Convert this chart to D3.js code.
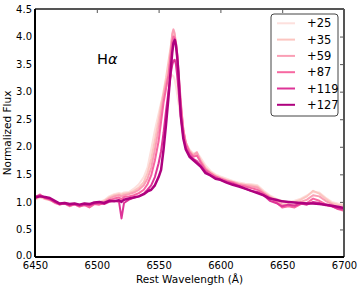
<!DOCTYPE html>
<html>
<head>
<meta charset="utf-8">
<script src="https://cdn.jsdelivr.net/npm/d3@7.9.0/dist/d3.min.js"></script>
<style>
  body { margin: 0; background: #fff; }
  svg { display: block; font-family: "DejaVu Sans", sans-serif; }
</style>
</head>
<body>
<svg id="chart" width="361" height="289"></svg>
<script>
// Rest wavelength grid (Å), shared by every epoch
const wavelength = [
  6450, 6454, 6458, 6462, 6466, 6470, 6474, 6478, 6482, 6486,
  6490, 6494, 6498, 6502, 6506, 6510, 6514, 6518, 6520, 6522,
  6526, 6530, 6534, 6538, 6541, 6544, 6547, 6550, 6552, 6554,
  6556, 6558, 6560, 6561, 6562, 6563, 6564, 6565, 6566, 6568,
  6570, 6572, 6575, 6578, 6581, 6584, 6588, 6592, 6596, 6600,
  6605, 6610, 6615, 6620, 6625, 6630, 6635, 6640, 6645, 6650,
  6655, 6660, 6665, 6670, 6675, 6680, 6685, 6690, 6695, 6700
];

const epochs = ['+25', '+35', '+59', '+87', '+119', '+127'];
const colors = ['#fde0dd', '#fcc5c0', '#fa9fb5', '#f768a1', '#dd3497', '#ae017e'];

const flux25 = [
  1.05, 1.08, 1.06, 1.04, 1.00, 0.97, 0.99, 0.96, 0.97, 0.95,
  0.97, 0.95, 0.99, 1.00, 1.03, 1.10, 1.14, 1.16, 1.15, 1.17,
  1.18, 1.24, 1.32, 1.45, 1.62, 1.95, 2.30, 2.60, 2.80, 2.95,
  3.08, 3.20, 3.28, 3.30, 3.28, 3.22, 3.10, 2.95, 2.80, 2.50,
  2.25, 2.05, 1.95, 1.88, 1.90, 1.80, 1.66, 1.56, 1.50, 1.46,
  1.42, 1.38, 1.35, 1.33, 1.32, 1.30, 1.20, 1.12, 1.06, 1.02,
  1.00, 1.02, 1.06, 1.12, 1.18, 1.17, 1.08, 1.00, 0.97, 0.95
];
const flux35 = [
  1.04, 1.09, 1.05, 1.03, 0.99, 0.96, 0.98, 0.95, 0.96, 0.94,
  0.96, 0.93, 0.98, 0.99, 1.02, 1.08, 1.12, 1.14, 1.13, 1.15,
  1.16, 1.20, 1.26, 1.36, 1.52, 1.78, 2.12, 2.48, 2.75, 3.00,
  3.25, 3.55, 3.85, 4.00, 4.08, 4.02, 3.85, 3.55, 3.25, 2.70,
  2.30, 2.08, 1.93, 1.86, 1.88, 1.76, 1.62, 1.54, 1.48, 1.44,
  1.40, 1.36, 1.33, 1.31, 1.30, 1.28, 1.18, 1.10, 1.04, 0.99,
  0.98, 1.00, 1.04, 1.10, 1.20, 1.15, 1.06, 0.98, 0.95, 0.93
];
const flux59 = [
  1.07, 1.14, 1.06, 1.05, 0.98, 0.95, 0.97, 0.92, 0.96, 0.91,
  0.95, 0.91, 0.97, 0.96, 1.00, 1.06, 1.10, 1.12, 1.10, 1.12,
  1.14, 1.17, 1.22, 1.30, 1.42, 1.62, 1.95, 2.32, 2.62, 2.92,
  3.15, 3.32, 3.78, 4.05, 4.13, 4.06, 3.88, 3.62, 3.30, 2.75,
  2.32, 2.08, 1.92, 1.84, 1.90, 1.74, 1.60, 1.52, 1.46, 1.43,
  1.39, 1.36, 1.32, 1.30, 1.28, 1.26, 1.16, 1.08, 1.02, 0.95,
  0.94, 0.95, 1.00, 1.04, 1.12, 1.10, 1.02, 0.96, 0.90, 0.88
];
const flux87 = [
  1.06, 1.12, 1.07, 1.04, 0.99, 0.95, 0.98, 0.93, 0.95, 0.92,
  0.94, 0.90, 0.96, 0.95, 0.98, 1.03, 1.06, 1.08, 1.05, 1.09,
  1.10, 1.12, 1.16, 1.22, 1.32, 1.48, 1.75, 2.10, 2.45, 2.80,
  3.05, 3.30, 3.70, 3.90, 4.00, 3.98, 3.90, 3.70, 3.40, 2.80,
  2.30, 2.05, 1.90, 1.82, 1.84, 1.72, 1.58, 1.52, 1.46, 1.42,
  1.38, 1.35, 1.30, 1.28, 1.25, 1.22, 1.15, 1.08, 1.00, 0.90,
  0.92, 0.90, 0.96, 0.98, 1.06, 1.02, 0.96, 0.93, 0.87, 0.84
];
const flux119 = [
  1.10, 1.12, 1.08, 1.05, 1.00, 0.96, 0.97, 0.94, 0.96, 0.93,
  0.95, 0.94, 0.97, 0.98, 0.96, 1.00, 1.02, 1.00, 0.70, 0.98,
  1.04, 1.08, 1.10, 1.15, 1.22, 1.30, 1.45, 1.70, 1.92, 2.25,
  2.65, 3.00, 3.35, 3.48, 3.56, 3.58, 3.50, 3.30, 3.05, 2.55,
  2.18, 1.98, 1.85, 1.78, 1.74, 1.66, 1.55, 1.48, 1.44, 1.40,
  1.36, 1.33, 1.29, 1.24, 1.20, 1.18, 1.12, 1.02, 0.98, 0.92,
  0.95, 0.93, 0.97, 0.95, 1.00, 0.98, 0.94, 0.92, 0.88, 0.86
];
const flux127 = [
  1.08, 1.10, 1.09, 1.07, 1.02, 0.97, 0.98, 0.96, 0.97, 0.95,
  0.97, 0.96, 0.99, 1.00, 0.98, 1.02, 1.01, 1.03, 1.00, 1.04,
  1.06, 1.08, 1.10, 1.14, 1.19, 1.22, 1.30, 1.45, 1.58, 1.95,
  2.40, 2.90, 3.45, 3.70, 3.88, 3.94, 3.85, 3.65, 3.35, 2.55,
  2.15, 1.95, 1.82, 1.76, 1.70, 1.64, 1.52, 1.48, 1.42, 1.40,
  1.35, 1.31, 1.28, 1.24, 1.20, 1.16, 1.12, 1.06, 1.04, 1.01,
  1.00, 0.99, 0.98, 0.97, 0.97, 0.96, 0.95, 0.93, 0.91, 0.89
];
const fluxes = [flux25, flux35, flux59, flux87, flux119, flux127];

const xTicks = [6450, 6500, 6550, 6600, 6650, 6700];
const yTicks = [0, 0.5, 1, 1.5, 2, 2.5, 3, 3.5, 4, 4.5];

const svg = d3.select('#chart');
const plotL = 35, plotR = 344, plotT = 9, plotB = 257;

const x = d3.scaleLinear().domain([6450, 6700]).range([plotL, plotR]);
const y = d3.scaleLinear().domain([0, 4.5]).range([plotB, plotT]);

// spectra, earliest first so the latest sits on top
const line = d3.line()
  .x((d, i) => x(wavelength[i]))
  .y((d) => y(d));

fluxes.forEach((f, idx) => {
  svg.append('path')
    .datum(f)
    .attr('d', line)
    .attr('fill', 'none')
    .attr('stroke', colors[idx])
    .attr('stroke-width', idx === 5 ? 2.5 : 2)
    .attr('stroke-linejoin', 'round');
});

// tick labels (no outer ticks)
const xAxis = svg.append('g')
  .attr('transform', `translate(0,${plotB})`)
  .call(d3.axisBottom(x).tickValues(xTicks).tickSize(0).tickPadding(5).tickFormat(d3.format('d')));
const yAxis = svg.append('g')
  .attr('transform', `translate(${plotL},0)`)
  .call(d3.axisLeft(y).tickValues(yTicks).tickSize(0).tickPadding(3).tickFormat(d3.format('.1f')));
[xAxis, yAxis].forEach((g) => {
  g.select('.domain').remove();
  g.selectAll('text').attr('font-size', 10).attr('fill', '#000')
    .attr('font-family', '"DejaVu Sans", sans-serif');
});
// bottom y label sits a touch higher, as in the original
yAxis.selectAll('.tick').filter((d) => d === 0).select('text').attr('dy', '0.1em');

// inward ticks on top and right
const topTicks = svg.append('g')
  .attr('transform', `translate(0,${plotT})`)
  .call(d3.axisTop(x).tickValues(xTicks).tickSize(-4).tickFormat(''));
const rightTicks = svg.append('g')
  .attr('transform', `translate(${plotR},0)`)
  .call(d3.axisRight(y).tickValues(yTicks).tickSize(-4).tickFormat(''));
[topTicks, rightTicks].forEach((g) => {
  g.select('.domain').remove();
  g.selectAll('line').attr('stroke', '#555').attr('stroke-width', 1);
});

// spines
svg.append('line').attr('x1', plotL).attr('x2', plotR).attr('y1', plotT).attr('y2', plotT)
  .attr('stroke', '#555').attr('stroke-width', 2);
svg.append('line').attr('x1', plotR).attr('x2', plotR).attr('y1', plotT).attr('y2', plotB)
  .attr('stroke', '#555').attr('stroke-width', 2);
svg.append('line').attr('x1', plotL).attr('x2', plotR).attr('y1', plotB).attr('y2', plotB)
  .attr('stroke', '#000').attr('stroke-width', 2);
svg.append('line').attr('x1', plotL).attr('x2', plotL).attr('y1', plotT).attr('y2', plotB)
  .attr('stroke', '#000').attr('stroke-width', 2);

// axis titles
svg.append('text')
  .attr('x', (plotL + plotR) / 2).attr('y', 283)
  .attr('text-anchor', 'middle').attr('font-size', 10.5)
  .text('Rest Wavelength (Å)');
svg.append('text')
  .attr('transform', `translate(11,${(plotT + plotB) / 2}) rotate(-90)`)
  .attr('text-anchor', 'middle').attr('font-size', 10.5)
  .text('Normalized Flux');

// line label
const ha = svg.append('text').attr('x', 97).attr('y', 64).attr('font-size', 14.5);
ha.append('tspan').text('H');
ha.append('tspan').attr('font-style', 'italic').text('α');

// legend
const legend = svg.append('g');
legend.append('rect')
  .attr('x', 271).attr('y', 14).attr('width', 67).attr('height', 102)
  .attr('rx', 3).attr('fill', '#fff').attr('stroke', '#444').attr('stroke-width', 1);
epochs.forEach((label, idx) => {
  const ly = 23.3 + idx * 16.3;
  legend.append('line')
    .attr('x1', 277).attr('x2', 295).attr('y1', ly).attr('y2', ly)
    .attr('stroke', colors[idx]).attr('stroke-width', 2);
  legend.append('text')
    .attr('x', 307).attr('y', ly).attr('dy', '0.36em')
    .attr('font-size', 11.5).text(label);
});
</script>
</body>
</html>
